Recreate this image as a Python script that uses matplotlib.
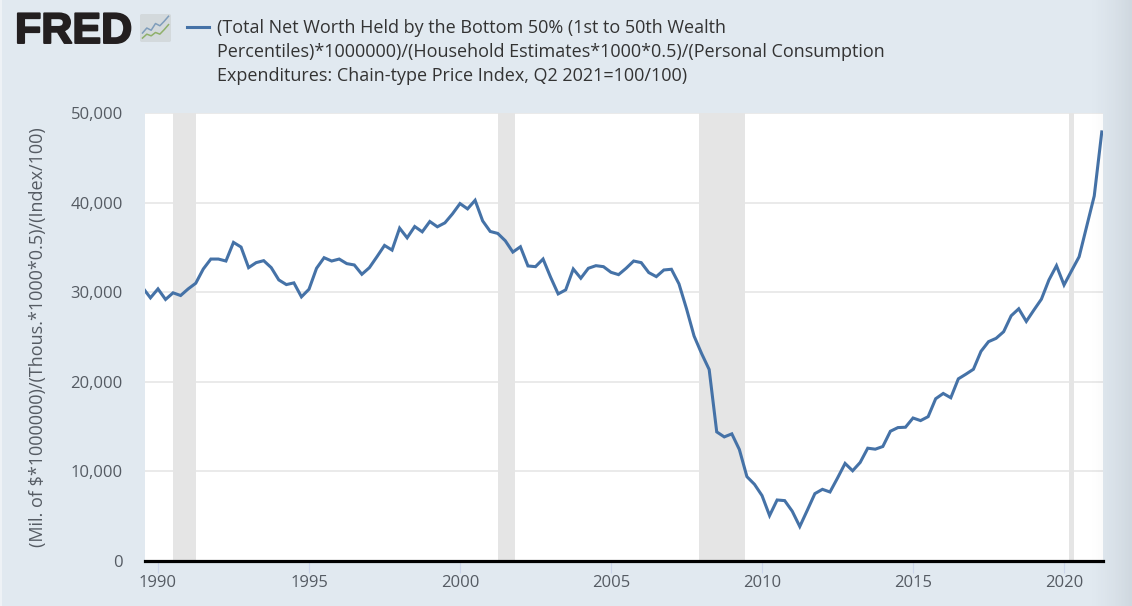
import numpy as np
import matplotlib
matplotlib.use("Agg")
import matplotlib.pyplot as plt
import matplotlib.patheffects as pe
from matplotlib.patches import FancyBboxPatch, Rectangle

plt.rcParams['font.family'] = ['Open Sans', 'DejaVu Sans']

# Quarterly values, 1989 Q3 to 2021 Q2
first_year = 1989.5
values = [
    30480, 29370, 30370, 29190, 29930, 29630, 30370, 31000, 32590, 33700, 33700, 33480,
    35560, 35040, 32740, 33300, 33520, 32740, 31370, 30850, 31040, 29480, 30330, 32670,
    33850, 33480, 33700, 33190, 33040, 32000, 32740, 33960, 35220, 34700, 37150, 36070,
    37330, 36740, 37890, 37300, 37740, 38740, 39890, 39300, 40260, 37960, 36780, 36560,
    35740, 34480, 35070, 32930, 32850, 33700, 31670, 29810, 30260, 32590, 31560, 32670,
    32960, 32850, 32220, 31960, 32670, 33480, 33300, 32190, 31740, 32480, 32560, 30930,
    28150, 25110, 23150, 21370, 14410, 13850, 14190, 12440, 9410, 8560, 7300, 5070,
    6810, 6740, 5560, 3850, 5670, 7520, 8000, 7700, 9260, 10890, 10070, 11000,
    12590, 12480, 12780, 14480, 14890, 14930, 15960, 15670, 16110, 18110, 18700, 18220,
    20330, 20850, 21400, 23400, 24480, 24850, 25590, 27370, 28150, 26740, 28000, 29220,
    31370, 32960, 30810, 32400, 33960, 37330, 40740, 47890,
]
recession_starts = [1990.5, 2001.25, 2007.92, 2020.17]
recession_ends = [1991.25, 2001.83, 2009.42, 2020.33]
y_ticks = [0, 10000, 20000, 30000, 40000, 50000]
x_ticks = [1990, 1995, 2000, 2005, 2010, 2015, 2020]
legend_lines = [
    "(Total Net Worth Held by the Bottom 50% (1st to 50th Wealth",
    "Percentiles)*1000000)/(Household Estimates*1000*0.5)/(Personal Consumption",
    "Expenditures: Chain-type Price Index, Q2 2021=100/100)",
]
y_label = "(Mil. of $*1000000)/(Thous.*1000*0.5)/(Index/100)"

# Logo sketch lines, in the icon's own 0-1 box
logo_x = [0.08, 0.22, 0.36, 0.50, 0.64, 0.78, 0.92]
logo_blue = [0.32, 0.50, 0.42, 0.66, 0.58, 0.74, 0.92]
logo_green = [0.14, 0.28, 0.22, 0.34, 0.28, 0.44, 0.62]

W, H = 1132, 606
BG = "#e1e9f0"
LINE = "#4572a7"
TEXT = "#555b63"

fig = plt.figure(figsize=(W / 100, H / 100), dpi=100, facecolor=BG)

def fx(px): return px / W
def fy(py): return 1 - py / H

# lighter sliver on the left edge
fig.add_artist(Rectangle((0, 0), fx(2), 1, transform=fig.transFigure, facecolor="#eef2f6", edgecolor="none"))

ax = fig.add_axes([fx(145), fy(561), fx(1103) - fx(145), fy(113) - fy(561)], facecolor="white")
x = first_year + np.arange(len(values)) * 0.25
ax.set_xlim(1989.57, 2021.29)
ax.set_ylim(0, 50000)

for a, b in zip(recession_starts, recession_ends):
    ax.axvspan(a, b, facecolor="#e5e5e5", edgecolor="none", zorder=2)
ax.plot(x, values, color=LINE, lw=2.2, zorder=3, solid_joinstyle="miter")

ax.set_yticks(y_ticks)
ax.set_yticklabels([f"{v:,}" for v in y_ticks])
ax.set_xticks(x_ticks)
ax.set_xticklabels([str(v) for v in x_ticks])
ax.tick_params(axis="y", length=0, labelsize=12, labelcolor=TEXT, pad=16)
ax.tick_params(axis="x", length=8.5, width=0.8, color="#ccd6eb", labelsize=12, labelcolor=TEXT, pad=1.5)
ax.grid(axis="y", color="#e6e6e6", lw=1.2, zorder=1)
ax.set_axisbelow(True)
for s in ("top", "right", "left"):
    ax.spines[s].set_visible(False)
ax.spines["bottom"].set_color("black")
ax.spines["bottom"].set_linewidth(2.3)

fig.text(fx(38), fy(337), y_label, rotation=90, ha="center", va="center", fontsize=13, color=TEXT)

# legend
fig.add_artist(plt.Line2D([fx(187), fx(209)], [fy(27), fy(27)], color=LINE, lw=2.2))
for line, py in zip(legend_lines, (28, 52, 76)):
    fig.text(fx(217), fy(py), line, ha="left", va="center", fontsize=13, color="#333333")

# logo
fig.text(fx(15), fy(43), "FRED", ha="left", va="baseline", fontsize=31, fontweight="bold",
         family="Liberation Sans", color="#231f20",
         path_effects=[pe.withStroke(linewidth=1.4, foreground="#231f20")])
icon = fig.add_axes([fx(140), fy(42), fx(31), fy(14) - fy(42)], facecolor="none", zorder=5)
icon.set_xlim(0, 1)
icon.set_ylim(0, 1)
icon.axis("off")
icon.add_patch(FancyBboxPatch((0, 0), 1, 1, boxstyle="round,pad=0,rounding_size=0.06",
                              facecolor="#d3d9dc", edgecolor="none"))
icon.plot(logo_x, logo_blue, color="#7f9dbb", lw=1.1)
icon.plot(logo_x, logo_green, color="#8fb06a", lw=1.1)

# soft shadow down the right-hand side of the page
shade = fig.add_axes([fx(1085), 0, fx(47), 1], zorder=10, facecolor="none")
shade.axis("off")
ramp = np.linspace(0, 1, 47) ** 1.6 * 0.09
rgba = np.zeros((1, 47, 4))
rgba[..., 0:3] = (0.1, 0.15, 0.2)
rgba[..., 3] = ramp
shade.imshow(rgba, aspect="auto", interpolation="bilinear")

fig.savefig("out.png", dpi=100, facecolor=BG)
